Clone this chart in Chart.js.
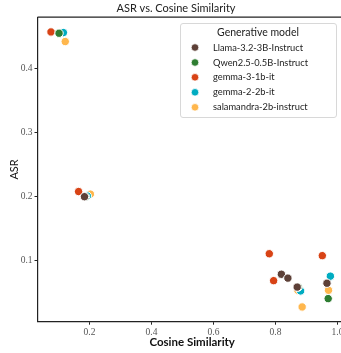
<!DOCTYPE html>
<html>
<head>
<meta charset="utf-8">
<script src="https://cdn.jsdelivr.net/npm/chart.js@4.4.0/dist/chart.umd.min.js"></script>
<style>
  html, body { margin: 0; padding: 0; background: #fff; overflow: hidden; }
  #wrap { width: 352px; height: 353px; }
</style>
</head>
<body>
<div id="wrap"><canvas id="grafico" width="352" height="353"></canvas></div>
<script>
// Datos del gráfico
var modelos = ["Llama-3.2-3B-Instruct", "Qwen2.5-0.5B-Instruct", "gemma-3-1b-it", "gemma-2-2b-it", "salamandra-2b-instruct"];
var colores = ["#5d4037", "#2e7d32", "#d84315", "#00acc1", "#ffb74d"];

var llamaX = [0.184, 0.819, 0.840, 0.966, 0.870];
var llamaY = [0.200, 0.079, 0.073, 0.065, 0.059];
var qwenX = [0.102, 0.187, 0.873, 0.970];
var qwenY = [0.455, 0.200, 0.059, 0.041];
var gemma3X = [0.076, 0.165, 0.780, 0.794, 0.951];
var gemma3Y = [0.457, 0.208, 0.111, 0.069, 0.108];
var gemma2X = [0.116, 0.193, 0.881, 0.977];
var gemma2Y = [0.456, 0.201, 0.053, 0.076];
var salaX = [0.122, 0.203, 0.872, 0.971, 0.886];
var salaY = [0.442, 0.204, 0.054, 0.054, 0.028];

var xTicks = [0.2, 0.4, 0.6, 0.8, 1.0];
var yTicks = [0.1, 0.2, 0.3, 0.4];

var seriesX = [llamaX, qwenX, gemma3X, gemma2X, salaX];
var seriesY = [llamaY, qwenY, gemma3Y, gemma2Y, salaY];

var datasets = modelos.map(function(nombre, i) {
  return {
    label: nombre,
    data: seriesX[i].map(function(x, j) { return { x: x, y: seriesY[i][j] }; }),
    backgroundColor: colores[i],
    borderColor: "#fff",
    borderWidth: 1,
    pointRadius: 4.2,
    pointHoverRadius: 4.2,
  };
});

var sansFont = "Lato, 'Open Sans', sans-serif";
var serifFont = "'Liberation Serif', 'DejaVu Serif', serif";

// Marco superior y leyenda dentro del área
var leyendaPlugin = {
  id: "leyendaInterna",
  afterDraw: function(chart) {
    var ctx = chart.ctx;
    var a = chart.chartArea;
    ctx.save();
    ctx.strokeStyle = "#222";
    ctx.lineWidth = 1.2;
    ctx.beginPath();
    ctx.moveTo(a.left, a.top);
    ctx.lineTo(a.right + 10, a.top);
    ctx.stroke();

    // caja
    var bx = 180.5, by = 23.5, bw = 156, bh = 94;
    ctx.fillStyle = "rgba(255,255,255,0.85)";
    ctx.strokeStyle = "#d8d8d8";
    ctx.lineWidth = 1;
    ctx.beginPath();
    ctx.roundRect(bx, by, bw, bh, 2.5);
    ctx.fill();
    ctx.stroke();

    ctx.fillStyle = "#222";
    ctx.textBaseline = "middle";
    ctx.textAlign = "center";
    ctx.font = "10.5px " + sansFont;
    ctx.fillText("Generative model", 258, 33);

    var filas = [47.5, 62.5, 77.3, 92.3, 107.3];
    ctx.textAlign = "left";
    ctx.font = "9.3px " + sansFont;
    for (var i = 0; i < modelos.length; i++) {
      ctx.beginPath();
      ctx.arc(195, filas[i], 3.8, 0, Math.PI * 2);
      ctx.fillStyle = colores[i];
      ctx.fill();
      ctx.strokeStyle = "#fff";
      ctx.lineWidth = 0.8;
      ctx.stroke();
      ctx.fillStyle = "#222";
      ctx.fillText(modelos[i], 213, filas[i]);
    }
    ctx.restore();
  }
};

var graficoCanvas = document.getElementById("grafico");
new Chart(graficoCanvas, {
  type: "scatter",
  data: { datasets: datasets },
  options: {
    responsive: false,
    animation: false,
    layout: { padding: 0 },
    plugins: {
      legend: { display: false },
      tooltip: { enabled: false },
      title: {
        display: true,
        text: "ASR vs. Cosine Similarity",
        color: "#222",
        font: { family: sansFont, size: 11, weight: "normal", lineHeight: 1.2 },
        padding: { top: 2, bottom: 2 },
      },
    },
    scales: {
      x: {
        type: "linear",
        min: 0.0325,
        max: 1.03,
        afterFit: function(scale) { scale.height = 31.3; },
        afterBuildTicks: function(scale) {
          scale.ticks = xTicks.map(function(v) { return { value: v }; });
        },
        ticks: {
          color: "#555",
          font: { family: serifFont, size: 9.5 },
          padding: 2,
          maxRotation: 0,
          callback: function(v) { return v.toFixed(1); },
        },
        grid: { drawOnChartArea: false, drawTicks: true, tickLength: 3, color: "#222" },
        border: { display: true, color: "#222", width: 1.2 },
        title: {
          display: true,
          text: "Cosine Similarity",
          color: "#111",
          font: { family: sansFont, size: 11.5, weight: "bold", lineHeight: 1.2 },
          padding: { top: 0, bottom: 4 },
        },
      },
      y: {
        type: "linear",
        min: 0.005,
        max: 0.48,
        afterFit: function(scale) { scale.width = 37.5; },
        afterBuildTicks: function(scale) {
          scale.ticks = yTicks.map(function(v) { return { value: v }; });
        },
        ticks: {
          color: "#555",
          font: { family: serifFont, size: 9.5 },
          padding: 2,
          callback: function(v) { return v.toFixed(1); },
        },
        grid: { drawOnChartArea: false, drawTicks: true, tickLength: 3, color: "#222" },
        border: { display: true, color: "#222", width: 1.2 },
        title: {
          display: true,
          text: "ASR",
          color: "#111",
          font: { family: sansFont, size: 11, weight: "normal", lineHeight: 1.2 },
          padding: { top: 7.5, bottom: 0 },
        },
      },
    },
  },
  plugins: [leyendaPlugin],
});
</script>
</body>
</html>
